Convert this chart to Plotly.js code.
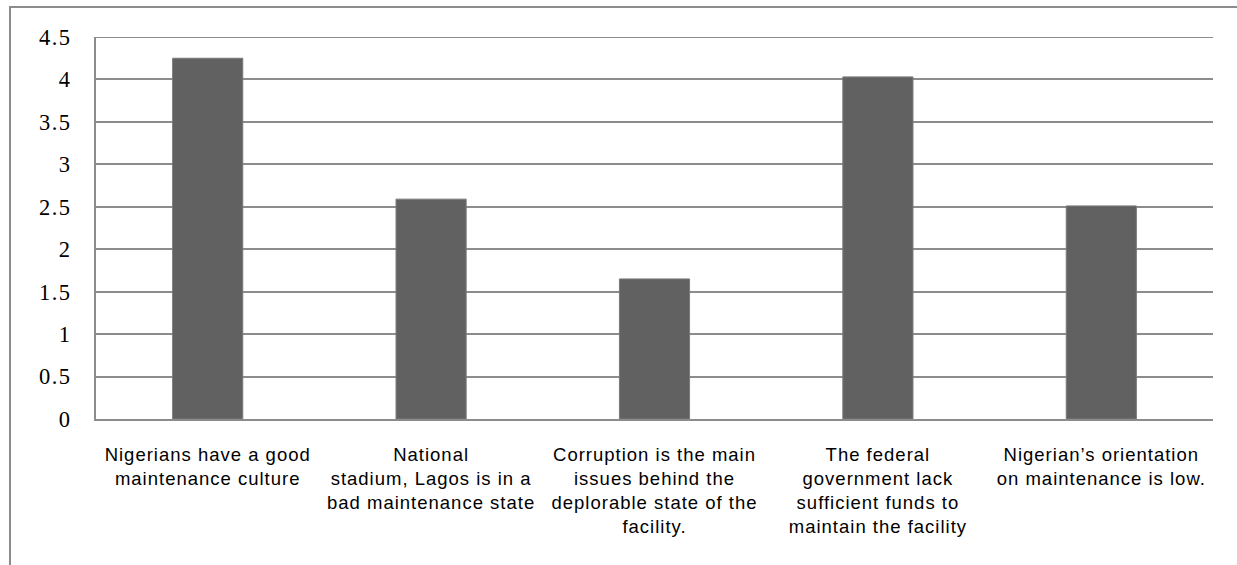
<!DOCTYPE html>
<html>
<head>
<meta charset="utf-8">
<script src="https://cdn.plot.ly/plotly-3.0.1.min.js"></script>
<style>
  html, body { margin: 0; padding: 0; background: #ffffff; }
  #wrap { position: relative; width: 1237px; height: 565px; overflow: hidden; }
  #chart { width: 1237px; height: 565px; }
  #frame { position: absolute; left: 9px; top: 6px; width: 1300px; height: 700px;
           border-left: 2px solid #8c8c8c; border-top: 2px solid #8c8c8c; pointer-events: none; }
  #chart .xtick text { letter-spacing: 1px; }
  #chart .ytick text { letter-spacing: 1.5px; }
</style>
</head>
<body>
<div id="wrap">
  <div id="chart"></div>
  <div id="frame"></div>
</div>
<script>
const categories = [
  "Nigerians have a good<br>maintenance culture",
  "National<br>stadium, Lagos is in a<br>bad maintenance state",
  "Corruption is the main<br>issues behind the<br>deplorable state of the<br>facility.",
  "The federal<br>government lack<br>sufficient funds to<br>maintain the facility",
  "Nigerian’s orientation<br>on maintenance is low."
];
const meanScores = [4.25, 2.59, 1.65, 4.03, 2.51];
const yTickValues = [0, 0.5, 1, 1.5, 2, 2.5, 3, 3.5, 4, 4.5];
const yTickLabels = ["0", "0.5", "1", "1.5", "2", "2.5", "3", "3.5", "4", "4.5"];
const yMax = yTickValues[yTickValues.length - 1];

const trace = {
  type: "bar",
  x: categories,
  y: meanScores,
  marker: { color: "#616161", line: { color: "#7a7a7a", width: 1 } },
  hoverinfo: "x+y"
};

const layout = {
  width: 1237,
  height: 565,
  margin: { l: 96, r: 24, t: 37, b: 146, pad: 0 },
  paper_bgcolor: "rgba(0,0,0,0)",
  plot_bgcolor: "#ffffff",
  showlegend: false,
  bargap: 0.686,
  xaxis: {
    type: "category",
    showgrid: false,
    showline: true,
    linecolor: "#8c8c8c",
    linewidth: 2,
    ticks: "",
    tickangle: 0,
    tickfont: { family: "Liberation Sans, Arial, sans-serif", size: 18.5, color: "#000000" },
    ticklabelstandoff: 18,
    automargin: false
  },
  yaxis: {
    range: [0, yMax],
    tickvals: yTickValues,
    ticktext: yTickLabels,
    showgrid: true,
    gridcolor: "#8c8c8c",
    gridwidth: 2,
    zeroline: false,
    showline: true,
    linecolor: "#8c8c8c",
    linewidth: 2,
    ticks: "",
    tickfont: { family: "Liberation Serif, Times New Roman, serif", size: 22.5, color: "#000000" },
    ticklabelstandoff: 18,
    automargin: false
  },
  shapes: [{
    type: "line", xref: "paper", yref: "y",
    x0: 0, x1: 1, y0: yMax, y1: yMax,
    line: { color: "#8c8c8c", width: 2 },
    layer: "below"
  }]
};

Plotly.newPlot("chart", [trace], layout, { displayModeBar: false, staticPlot: true });
</script>
</body>
</html>
